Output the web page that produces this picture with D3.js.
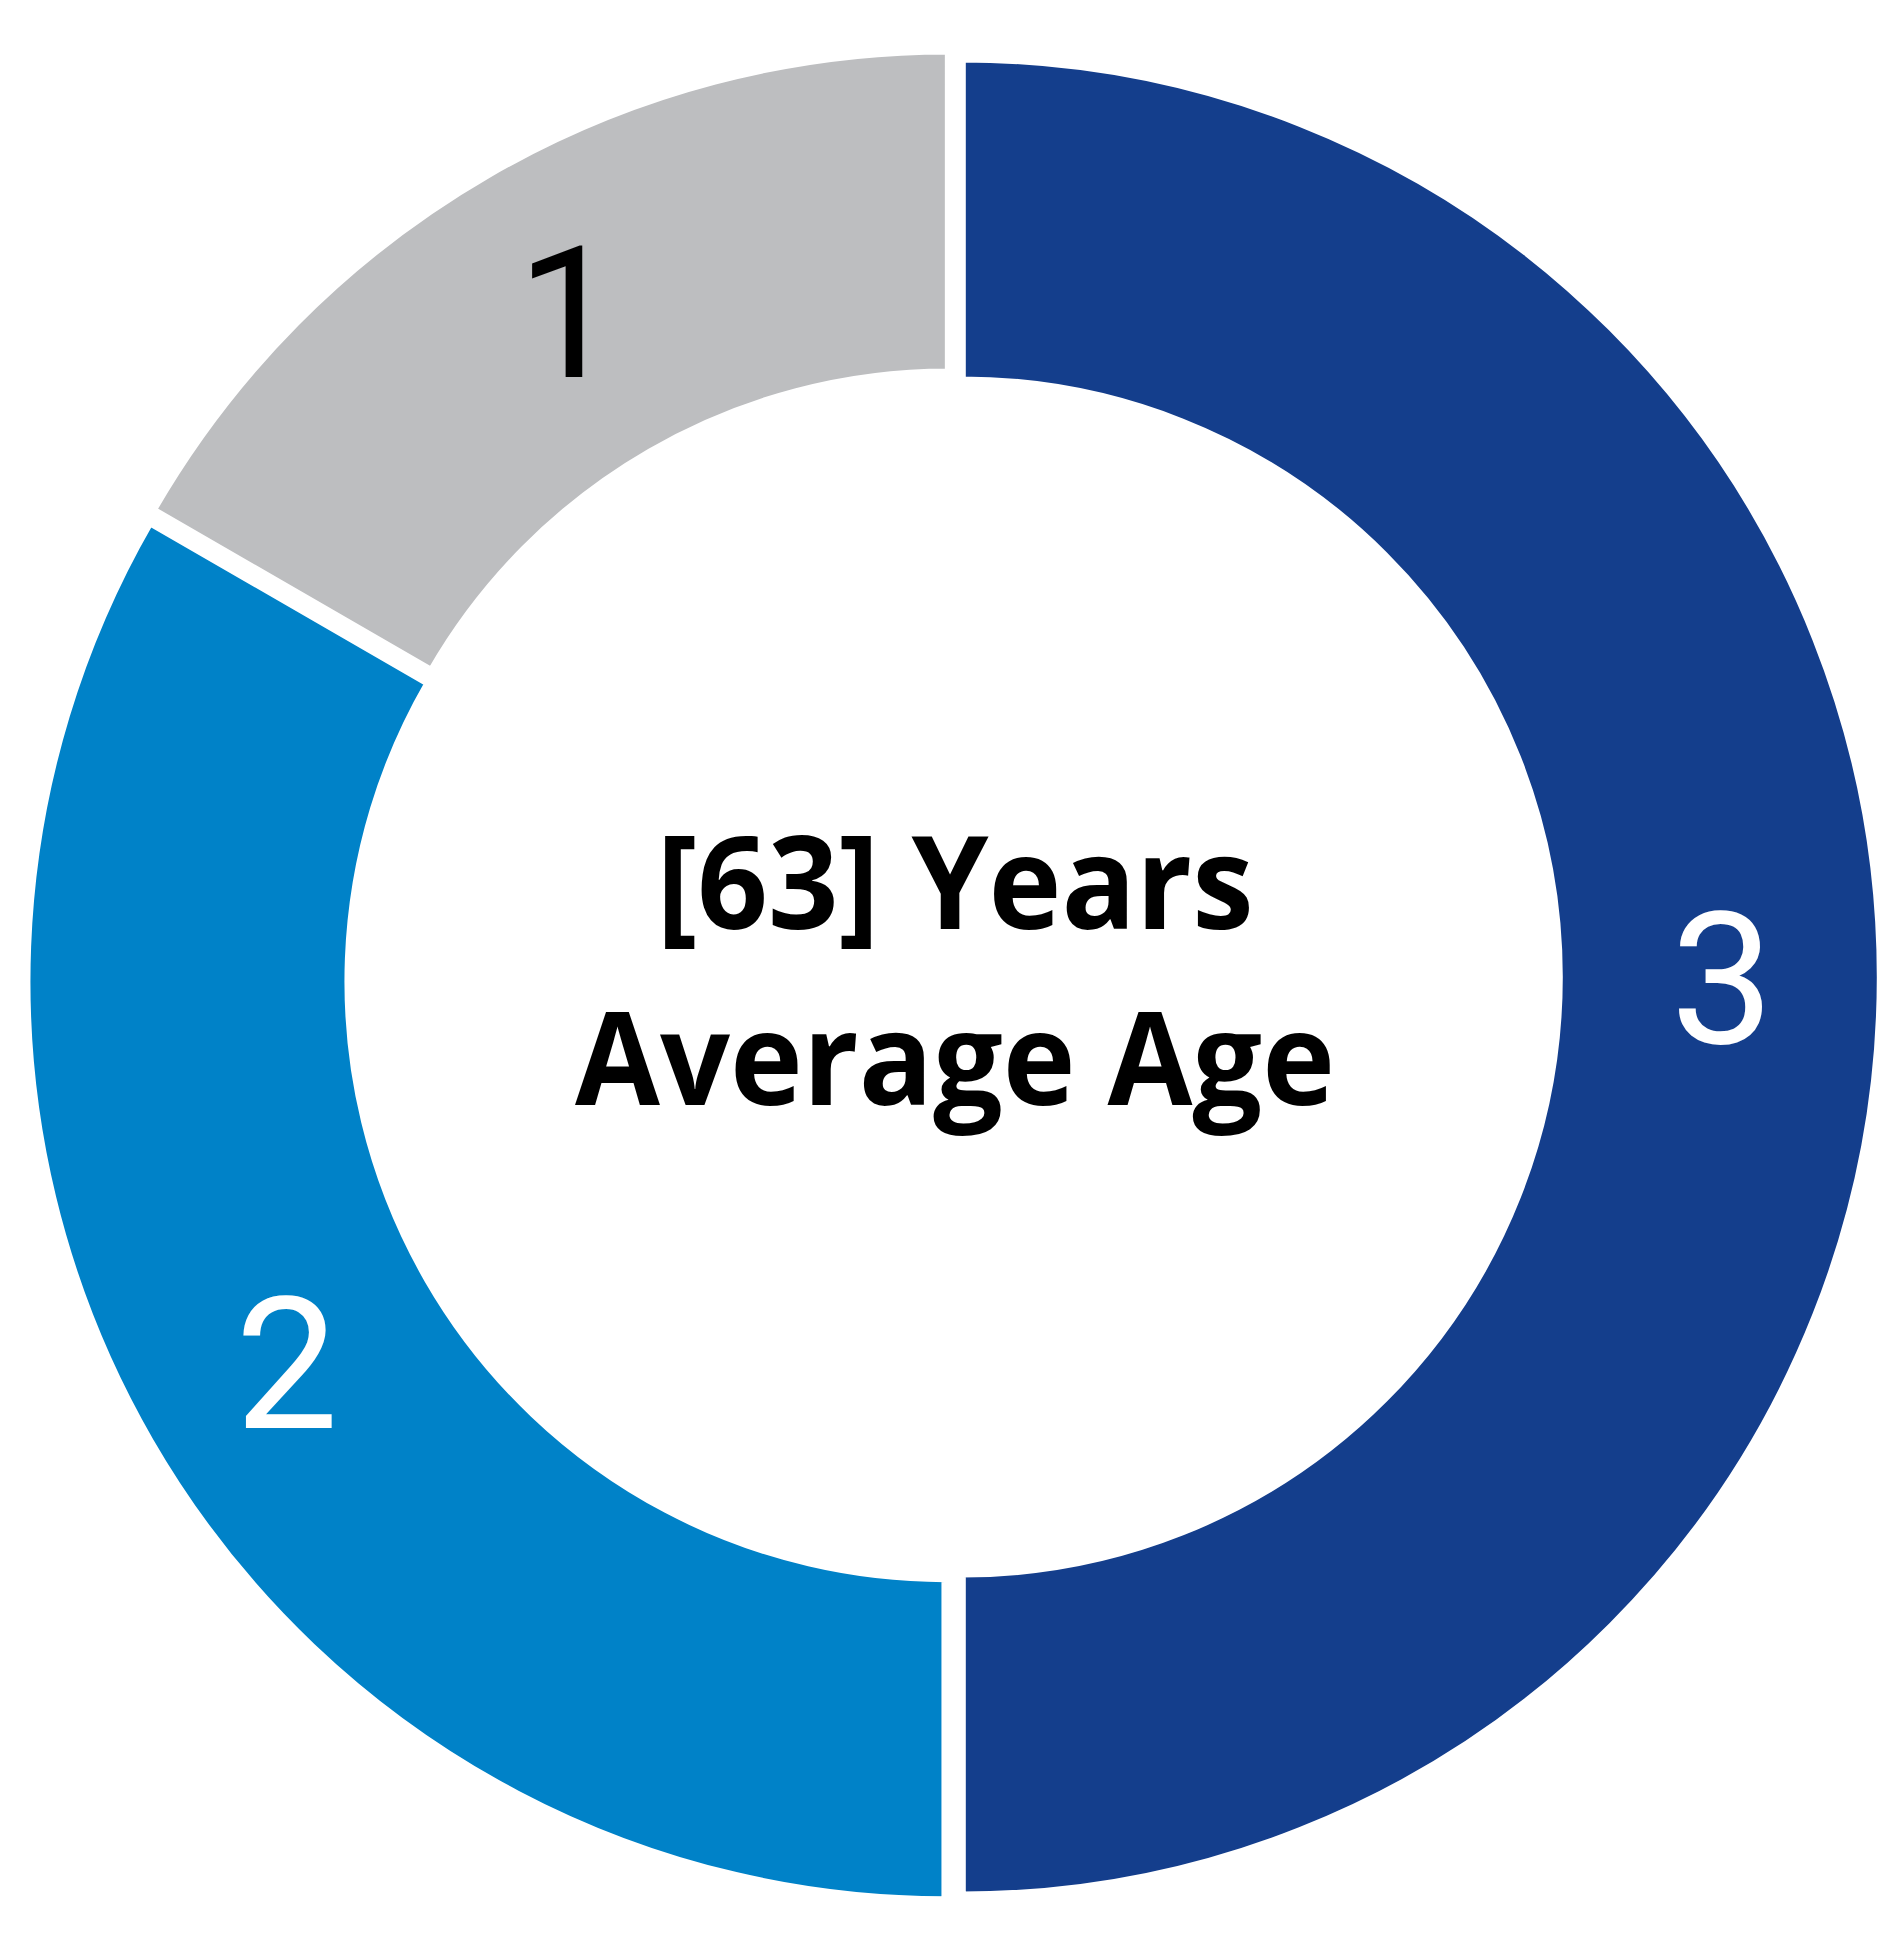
<!DOCTYPE html>
<html>
<head>
<meta charset="utf-8">
<script src="https://cdn.jsdelivr.net/npm/d3@7"></script>
<style>
  html, body { margin: 0; padding: 0; background: #ffffff; }
  svg { display: block; }
</style>
</head>
<body>
<svg id="chart" width="1895" height="1955"></svg>
<script>
// ---- data ----
const categories = ["3", "2", "1"];
const values = [3, 2, 1];
const sliceColors = ["#143E8C", "#0082C8", "#BDBEC0"];
const labelColors = ["#ffffff", "#ffffff", "#000000"];
const centerLines = ["[63] Years", "Average Age"];

// ---- layout ----
const W = 1895, H = 1955;
const cx = 953, cy = 977;
const outerR = 918, innerR = 597;
const explode = 9.3;
const svg = d3.select("#chart");

svg.append("rect").attr("width", W).attr("height", H).attr("fill", "#ffffff");

const pie = d3.pie().sort(null).value(d => d.value);
const slices = pie(categories.map((c, i) => ({ cat: c, value: values[i], color: sliceColors[i], lc: labelColors[i] })));

const arc = d3.arc().innerRadius(innerR).outerRadius(outerR);
const labelArc = d3.arc().innerRadius(760).outerRadius(760);

const g = svg.append("g").attr("transform", `translate(${cx},${cy})`);

const sg = g.selectAll("g.slice").data(slices).join("g")
  .attr("class", "slice")
  .attr("transform", d => {
    const a = (d.startAngle + d.endAngle) / 2;
    return `translate(${Math.sin(a) * explode},${-Math.cos(a) * explode})`;
  });

sg.append("path")
  .attr("d", arc)
  .attr("fill", d => d.data.color)
  .attr("stroke", "#ffffff")
  .attr("stroke-width", 7)
  .attr("stroke-linejoin", "miter");

sg.append("text")
  .attr("transform", d => `translate(${labelArc.centroid(d)})`)
  .attr("text-anchor", "middle")
  .attr("dy", "0.36em")
  .attr("font-family", "Roboto, 'Liberation Sans', Arial, sans-serif")
  .attr("font-size", 184)
  .attr("fill", d => d.data.lc)
  .text(d => d.data.cat);

// ---- center text ----
const ct = g.append("g");
const lineWidths = [597, 760];
const baselines = [-48, 128];
centerLines.forEach((t, i) => {
  ct.append("text")
    .attr("x", 2)
    .attr("y", baselines[i])
    .attr("text-anchor", "middle")
    .attr("font-family", "'Open Sans', Lato, sans-serif")
    .attr("font-weight", 700)
    .attr("font-size", 130)
    .attr("fill", "#000000")
    .attr("textLength", lineWidths[i])
    .attr("lengthAdjust", "spacingAndGlyphs")
    .text(t);
});
</script>
</body>
</html>
